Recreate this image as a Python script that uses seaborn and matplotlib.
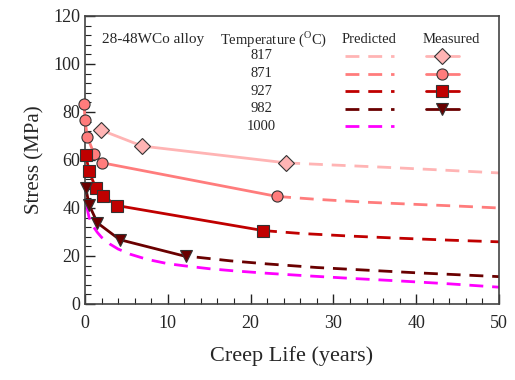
import matplotlib
matplotlib.use("Agg")
import matplotlib.pyplot as plt
import seaborn as sns
import pandas as pd
from matplotlib.lines import Line2D
from matplotlib.ticker import MultipleLocator

# ---------------- data ----------------
temps = ["817", "871", "927", "982", "1000"]
colors = ["#FFB4B4", "#FF7C7C", "#C00000", "#6A0000", "#FF00FF"]
markers = ["D", "o", "s", "v", None]

# measured (years, MPa)
meas_817_t = [1.9, 6.9, 24.3]
meas_817_s = [72.5, 65.8, 58.8]
meas_871_t = [-0.1, 0.0, 0.3, 1.1, 2.1, 23.2]
meas_871_s = [83.3, 76.5, 69.5, 62.5, 58.8, 44.8]
meas_927_t = [0.1, 0.5, 1.3, 2.2, 3.9, 21.5]
meas_927_s = [62.0, 55.3, 48.3, 44.8, 41.0, 30.6]
meas_982_t = [0.1, 0.5, 1.5, 4.2, 12.2]
meas_982_s = [48.3, 41.3, 33.8, 26.8, 19.8]

# predicted (years, MPa)
pred_817_t = [24.3, 30.0, 36.0, 42.0, 50.0]
pred_817_s = [58.8, 57.9, 57.0, 56.0, 54.6]
pred_871_t = [23.2, 28.0, 34.0, 40.0, 45.0, 50.0]
pred_871_s = [44.8, 43.6, 42.4, 41.5, 40.8, 40.0]
pred_927_t = [21.5, 26.0, 32.0, 38.0, 44.0, 50.0]
pred_927_s = [30.6, 29.4, 28.3, 27.4, 26.6, 25.9]
pred_982_t = [13.5, 17.5, 22.0, 28.0, 34.0, 40.0, 45.0, 50.0]
pred_982_s = [19.5, 18.0, 16.7, 15.2, 14.1, 13.0, 12.2, 11.4]
pred_1000_t = [0.2, 0.5, 1.0, 1.5, 2.0, 3.0, 4.0, 5.5, 7.5, 10.0, 12.0, 15.0, 18.0,
               22.0, 27.0, 32.0, 38.0, 44.0, 50.0]
pred_1000_s = [40.8, 36.0, 32.3, 29.8, 27.8, 25.0, 22.9, 20.7, 18.6, 16.8, 15.9, 14.7,
               13.8, 12.8, 11.7, 10.7, 9.6, 8.4, 7.0]

xticks = [0, 10, 20, 30, 40, 50]
yticks = [0, 20, 40, 60, 80, 100, 120]

meas = {"817": (meas_817_t, meas_817_s), "871": (meas_871_t, meas_871_s),
        "927": (meas_927_t, meas_927_s), "982": (meas_982_t, meas_982_s)}
pred = {"817": (pred_817_t, pred_817_s), "871": (pred_871_t, pred_871_s),
        "927": (pred_927_t, pred_927_s), "982": (pred_982_t, pred_982_s),
        "1000": (pred_1000_t, pred_1000_s)}

# ---------------- plot ----------------
sns.set_style("white")
plt.rcParams["font.family"] = ["Liberation Serif", "DejaVu Serif"]
plt.rcParams["mathtext.fontset"] = "custom"
plt.rcParams["mathtext.rm"] = "Liberation Serif"

fig = plt.figure(figsize=(5.15, 3.8), dpi=100)
ax = fig.add_axes([0.165, 0.2, 0.804, 0.758])

style = {c: (col, m) for c, col, m in zip(temps, colors, markers)}

for t in temps:
    col, _ = style[t]
    x, y = pred[t]
    df = pd.DataFrame({"t": x, "s": y})
    sns.lineplot(data=df, x="t", y="s", ax=ax, color=col, lw=2.0, sort=False,
                 estimator=None)
    ax.lines[-1].set_dashes([5, 3.2])

msize = {"D": 8.5, "o": 8, "s": 8, "v": 8.5}
for t in ["817", "871", "927", "982"]:
    col, m = style[t]
    x, y = meas[t]
    df = pd.DataFrame({"t": x, "s": y})
    sns.lineplot(data=df, x="t", y="s", ax=ax, color=col, lw=2.0, sort=False,
                 estimator=None, marker=m, markersize=msize[m],
                 markeredgecolor="#333333", markeredgewidth=0.8,
                 markerfacecolor=col, clip_on=False, zorder=4)

ax.set_xlim(0, 50)
ax.set_ylim(0, 120)
ax.set_xticks(xticks)
ax.set_yticks(yticks)
ax.xaxis.set_minor_locator(MultipleLocator(2))
ax.yaxis.set_minor_locator(MultipleLocator(4))
ax.tick_params(axis="both", which="both", direction="in", bottom=True, left=True,
               top=False, right=False, labelsize=13, color="#222222")
ax.tick_params(which="major", length=7, width=1.0)
ax.tick_params(which="minor", length=4, width=0.8)
ax.tick_params(axis="x", pad=8)
for sp in ax.spines.values():
    sp.set_color("#444444")
    sp.set_linewidth(1.2)

ax.set_xlabel("Creep Life (years)", fontsize=16, labelpad=10)
ax.set_ylabel("Stress (MPa)", fontsize=15, labelpad=6)

# ---------------- custom legend ----------------
tr = ax.transAxes
fs = 10.5
ax.text(0.04, 0.92, "28-48WCo alloy", transform=tr, fontsize=11, va="center", ha="left")
ax.text(0.455, 0.92, r"Temperature ($^{\mathrm{O}}$C)", transform=tr, fontsize=fs,
        va="center", ha="center")
ax.text(0.685, 0.92, "Predicted", transform=tr, fontsize=fs, va="center", ha="center")
ax.text(0.885, 0.92, "Measured", transform=tr, fontsize=fs, va="center", ha="center")
rows = [0.862, 0.800, 0.738, 0.678, 0.617]
for t, yy in zip(temps, rows):
    col, m = style[t]
    ax.text(0.425, yy, t, transform=tr, fontsize=fs, va="center", ha="center")
    ln = Line2D([0.627, 0.746], [yy, yy], transform=tr, color=col, lw=2.0,
                dashes=[5, 3.2])
    ax.add_line(ln)
    if m is not None:
        ax.add_line(Line2D([0.823, 0.903], [yy, yy], transform=tr, color=col, lw=2.0))
        ax.add_line(Line2D([0.863], [yy], transform=tr, color=col, marker=m,
                           markersize=msize[m], markeredgecolor="#333333",
                           markeredgewidth=0.8, markerfacecolor=col, lw=0))

fig.savefig("out.png", dpi=100)
